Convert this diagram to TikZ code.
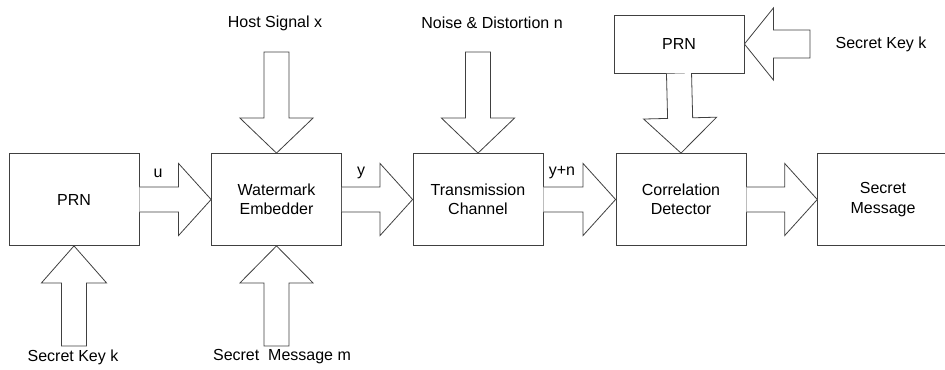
\documentclass[tikz,border=0pt]{standalone}
\usepackage{fontspec}
\setmainfont{Liberation Sans}
\usetikzlibrary{calc}

% sizes of the hollow block arrows (in pt)
\tikzset{blk shaft/.store in=\blkshaft, blk wing/.store in=\blkwing, blk head/.store in=\blkhead,
  blk shaft=9.4, blk wing=27, blk head=24.4}

% hollow block arrow from #2 to #3; #4 closes the tail (-- cycle) or leaves it open
\newcommand\blockarrow[4][]{%
  \draw[blockline,#1] let \p1=(#2), \p2=(#3),
    \n1={veclen(\x2-\x1,\y2-\y1)}, \n2={(\x2-\x1)/\n1}, \n3={(\y2-\y1)/\n1},
    \n4={\n1-\blkhead} in
    ({\x1-\blkshaft*\n3},{\y1+\blkshaft*\n2})
    -- ({\x1+\n4*\n2-\blkshaft*\n3},{\y1+\n4*\n3+\blkshaft*\n2})
    -- ({\x1+\n4*\n2-\blkwing*\n3},{\y1+\n4*\n3+\blkwing*\n2})
    -- (\p2)
    -- ({\x1+\n4*\n2+\blkwing*\n3},{\y1+\n4*\n3-\blkwing*\n2})
    -- ({\x1+\n4*\n2+\blkshaft*\n3},{\y1+\n4*\n3-\blkshaft*\n2})
    -- ({\x1+\blkshaft*\n3},{\y1-\blkshaft*\n2}) #4;}

\begin{document}
\begin{tikzpicture}[x=0.75pt,y=-0.75pt,line width=.6pt,
  box/.style={draw=black!75,minimum width=97.5pt,minimum height=69pt,inner sep=0pt,align=center,font=\fontsize{12}{14.5}\selectfont},
  keybox/.style={box,minimum height=43.5pt},
  blockline/.style={draw=black!75,fill=white,line join=miter},
  lbl/.style={inner sep=0pt,font=\fontsize{12}{14.5}\selectfont}]
\path[use as bounding box] (0,0) rectangle (945,370);

% main chain
\node[box] (prn) at (74,199.5) {PRN};
\node[box] (emb) at (276.5,199.5) {Watermark\\Embedder};
\node[box] (chan) at (478,199.5) {Transmission\\Channel};
\node[box] (det) at (681,199.5) {Correlation\\Detector};
\node[box,minimum width=104pt] (msg) at (887,199.5) {};
\node[lbl,align=center] (msgtxt) at (883,199.5) {Secret\\Message};
\node[keybox] (prnk) at (679,44) {PRN};

% outside inputs
\node[lbl] (host) at (275,23) {Host Signal x};
\node[lbl] (noise) at (492,23) {Noise \& Distortion n};
\node[lbl] (keyr) at (881,44) {Secret Key k};
\node[lbl] (keyl) at (73,357) {Secret Key k};
\node[lbl] (secm) at (282,357) {Secret\ \ Message m};
\coordinate (hostin) at (276.5,52);
\coordinate (noisein) at (478,52);
\coordinate (keyrin) at (810,44);
\coordinate (keylin) at (74,346);
\coordinate (secmin) at (276.5,346);

% signal names
\node[lbl] (u) at (158,173) {u};
\node[lbl] (y) at (361,173) {y};
\node[lbl] (yn) at (562,173) {y+n};

% forward arrows
\blockarrow{prn.east}{emb.west}{}
\blockarrow{emb.east}{chan.west}{}
\blockarrow{chan.east}{det.west}{}
\blockarrow{det.east}{msg.west}{}

% arrows from above
\blockarrow[blk wing=27.4,blk head=26.25]{hostin}{emb.north}{-- cycle}
\blockarrow[blk wing=27.4,blk head=26.25]{noisein}{chan.north}{-- cycle}
\blockarrow[blk wing=27.4,blk head=26.25]{prnk.south}{det.north}{}
\blockarrow[blk shaft=10.5,blk head=21.75]{keyrin}{prnk.east}{-- cycle}

% arrows from below
\blockarrow[blk wing=24.4,blk head=27.75]{keylin}{prn.south}{-- cycle}
\blockarrow[blk wing=27.4,blk head=27.75]{secmin}{emb.south}{-- cycle}
\end{tikzpicture}
\end{document}
